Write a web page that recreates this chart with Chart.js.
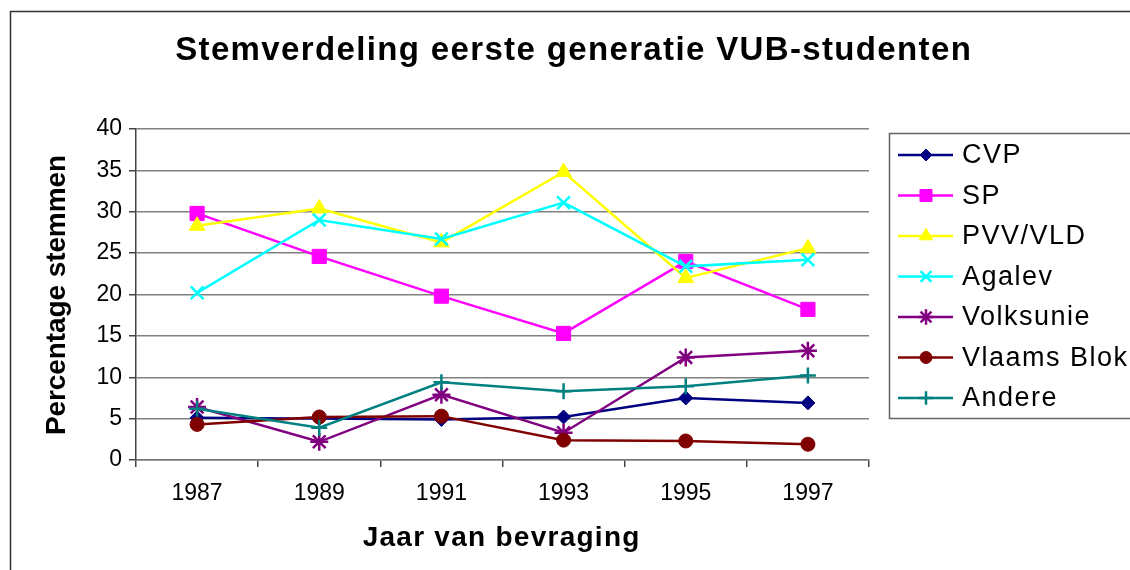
<!DOCTYPE html>
<html>
<head>
<meta charset="utf-8">
<script src="https://cdn.jsdelivr.net/npm/chart.js@4/dist/chart.umd.min.js"></script>
<style>
  html, body { margin: 0; padding: 0; background: #fff; }
  #wrap { width: 1130px; height: 570px; }
</style>
</head>
<body>
<div id="wrap"><canvas id="myChart" width="1130" height="570"></canvas></div>
<script>
// values
var years = ['1987', '1989', '1991', '1993', '1995', '1997'];
var cvp = [5.1, 5.0, 4.9, 5.2, 7.5, 6.9];
var sp = [29.8, 24.6, 19.8, 15.3, 24.0, 18.2];
var pvvVld = [28.3, 30.4, 26.3, 34.8, 22.0, 25.6];
var agalev = [20.2, 29.0, 26.7, 31.1, 23.4, 24.2];
var volksunie = [6.4, 2.2, 7.9, 3.3, 12.4, 13.2];
var vlaamsBlok = [4.3, 5.2, 5.3, 2.4, 2.3, 1.9];
var andere = [6.2, 3.9, 9.4, 8.3, 8.9, 10.2];
var yTicks = [0, 5, 10, 15, 20, 25, 30, 35, 40];

var chartTitle = 'Stemverdeling eerste generatie VUB-studenten';
var xTitle = 'Jaar van bevraging';
var yTitle = 'Percentage stemmen';

var FONT = 'Arial, "Liberation Sans", sans-serif';

function series(label, data, color, style, radius, filled) {
    return {
        label: label,
        data: data,
        borderColor: color,
        backgroundColor: color,
        borderWidth: 2.5,
        tension: 0,
        pointStyle: style,
        pointRadius: radius,
        pointBorderWidth: filled ? 1 : 2.5,
        pointBackgroundColor: color,
        pointBorderColor: color
    };
}

var datasets = [
    series('CVP', cvp, '#000080', 'rectRot', 7, true),
    series('SP', sp, '#FF00FF', 'rect', 10, true),
    series('PVV/VLD', pvvVld, '#FFFF00', 'triangle', 9, true),
    series('Agalev', agalev, '#00FFFF', 'crossRot', 9, false),
    series('Volksunie', volksunie, '#800080', 'star', 9, false),
    series('Vlaams Blok', vlaamsBlok, '#800000', 'circle', 7, true),
    series('Andere', andere, '#008080', 'cross', 8, false)
];
// later series drawn on top, like the original
datasets.forEach(function (d, i) { d.order = datasets.length - i; });

// stretch text to a given width with letter spacing
function spreadText(ctx, text, x, y, width) {
    ctx.letterSpacing = '0px';
    var w = ctx.measureText(text).width;
    var sp = (width - w) / text.length;
    ctx.letterSpacing = sp + 'px';
    ctx.fillText(text, x + sp / 2, y);
    ctx.letterSpacing = '0px';
}

var decorations = {
    id: 'decorations',
    beforeDraw: function (chart) {
        var ctx = chart.ctx;
        ctx.save();
        ctx.fillStyle = '#fff';
        ctx.fillRect(0, 0, chart.width, chart.height);
        ctx.restore();
    },
    afterDraw: function (chart) {
        var ctx = chart.ctx;
        ctx.save();

        // outer frame (cut off at right and bottom)
        ctx.strokeStyle = '#333';
        ctx.lineWidth = 1.5;
        ctx.strokeRect(10.5, 11.5, 1300, 700);

        ctx.fillStyle = '#000';
        ctx.textAlign = 'center';
        ctx.textBaseline = 'middle';

        ctx.font = 'bold 33px ' + FONT;
        spreadText(ctx, chartTitle, 573, 51, 797);

        ctx.font = 'bold 28px ' + FONT;
        spreadText(ctx, xTitle, 501, 538, 278);

        ctx.save();
        ctx.translate(57, 295);
        ctx.rotate(-Math.PI / 2);
        spreadText(ctx, yTitle, 0, 0, 280);
        ctx.restore();

        // legend box
        ctx.strokeStyle = '#666';
        ctx.lineWidth = 1.5;
        ctx.strokeRect(889.5, 133.5, 400, 285);

        ctx.textAlign = 'left';
        ctx.font = '27px ' + FONT;
        chart.data.datasets.forEach(function (ds, i) {
            var y = 155 + i * 40.5;
            ctx.strokeStyle = ds.borderColor;
            ctx.lineWidth = 2.5;
            ctx.beginPath();
            ctx.moveTo(898, y);
            ctx.lineTo(953, y);
            ctx.stroke();

            ctx.fillStyle = ds.pointBackgroundColor;
            ctx.strokeStyle = ds.pointBorderColor;
            ctx.lineWidth = ds.pointBorderWidth;
            Chart.helpers.drawPoint(ctx, {
                pointStyle: ds.pointStyle,
                radius: ds.pointRadius * 0.85,
                rotation: 0,
                borderWidth: ds.pointBorderWidth
            }, 926, y);

            ctx.fillStyle = '#000';
            ctx.letterSpacing = '1.5px';
            ctx.fillText(ds.label, 962, y + 1);
            ctx.letterSpacing = '0px';
        });

        ctx.restore();
    }
};

var ctx = document.getElementById('myChart').getContext('2d');
var myLineChart = new Chart(ctx, {
    type: 'line',
    data: {
        labels: years,
        datasets: datasets
    },
    options: {
        responsive: false,
        animation: false,
        events: [],
        layout: {
            padding: { left: 0, right: 261, top: 129, bottom: 0 }
        },
        plugins: {
            legend: { display: false },
            title: { display: false },
            tooltip: { enabled: false }
        },
        scales: {
            x: {
                type: 'category',
                offset: true,
                afterFit: function (s) { s.height = 110; },
                grid: {
                    offset: true,
                    drawOnChartArea: false,
                    drawTicks: true,
                    tickLength: 7,
                    tickColor: '#444',
                    lineWidth: 1.5
                },
                border: { display: true, color: '#777', width: 1.5 },
                ticks: {
                    color: '#000',
                    padding: 13,
                    maxRotation: 0,
                    font: { family: FONT, size: 23 }
                }
            },
            y: {
                min: 0,
                max: 40,
                afterFit: function (s) { s.width = 136; },
                afterBuildTicks: function (s) {
                    s.ticks = yTicks.map(function (v) { return { value: v }; });
                },
                grid: {
                    color: '#808080',
                    lineWidth: 1.5,
                    tickLength: 7,
                    tickColor: '#444'
                },
                border: { display: true, color: '#444', width: 1.5 },
                ticks: {
                    color: '#000',
                    padding: 7,
                    font: { family: FONT, size: 23 }
                }
            }
        }
    },
    plugins: [decorations]
});
</script>
</body>
</html>
